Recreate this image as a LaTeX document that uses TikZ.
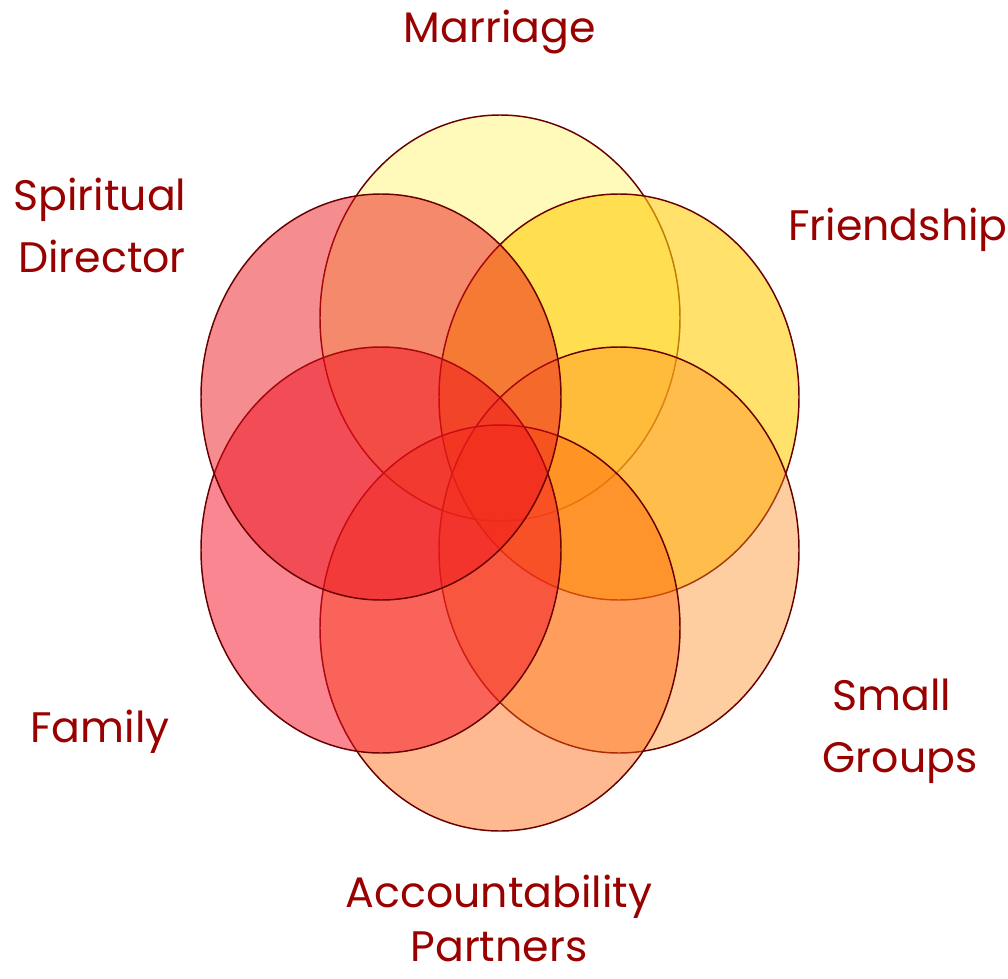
\documentclass[tikz,border=0pt]{standalone}
\usepackage{fontspec}
\setmainfont{Poppins}
\definecolor{lbl}{RGB}{153,0,0}
\definecolor{edge}{RGB}{105,0,0}
\definecolor{cMarriage}{RGB}{255,245,100}
\definecolor{cFriend}{RGB}{255,205,10}
\definecolor{cSmall}{RGB}{255,140,30}
\definecolor{cAcc}{RGB}{255,100,10}
\definecolor{cFamily}{RGB}{245,15,35}
\definecolor{cSpirit}{RGB}{235,15,25}
\begin{document}
\begin{tikzpicture}[x=0.75pt,y=-0.75pt,
  ring/.style={draw=edge,line width=1.1pt},
  lab/.style={text=lbl,font=\fontsize{32}{40}\selectfont,anchor=base,inner sep=0pt}]
\useasboundingbox (0,0) rectangle (1008,979);
\fill[white] (0,0) rectangle (1008,979);
% circles
\path[ring,fill=cMarriage,fill opacity=0.45] (500,318) ellipse [x radius=135pt,y radius=152.25pt];
\path[ring,fill=cFriend,fill opacity=0.6] (619,397) ellipse [x radius=135pt,y radius=152.25pt];
\path[ring,fill=cSmall,fill opacity=0.42] (619,550) ellipse [x radius=135pt,y radius=152.25pt];
\path[ring,fill=cAcc,fill opacity=0.45] (500,628) ellipse [x radius=135pt,y radius=152.25pt];
\path[ring,fill=cFamily,fill opacity=0.5] (381,550) ellipse [x radius=135pt,y radius=152.25pt];
\path[ring,fill=cSpirit,fill opacity=0.48] (381,397) ellipse [x radius=135pt,y radius=152.25pt];
% labels
\node[lab] (marriage) at (500,42) {Marriage};
\node[lab] (friend) at (898,240) {Friendship};
\node[lab] (spirit1) at (100,210) {Spiritual};
\node[lab] (spirit2) at (102,272) {Director};
\node[lab] (family) at (100,742) {Family};
\node[lab] (small1) at (892,710) {Small};
\node[lab] (small2) at (900,772) {Groups};
\node[lab] (acc1) at (499,907) {Accountability};
\node[lab] (acc2) at (499,961) {Partners};
\end{tikzpicture}
\end{document}
